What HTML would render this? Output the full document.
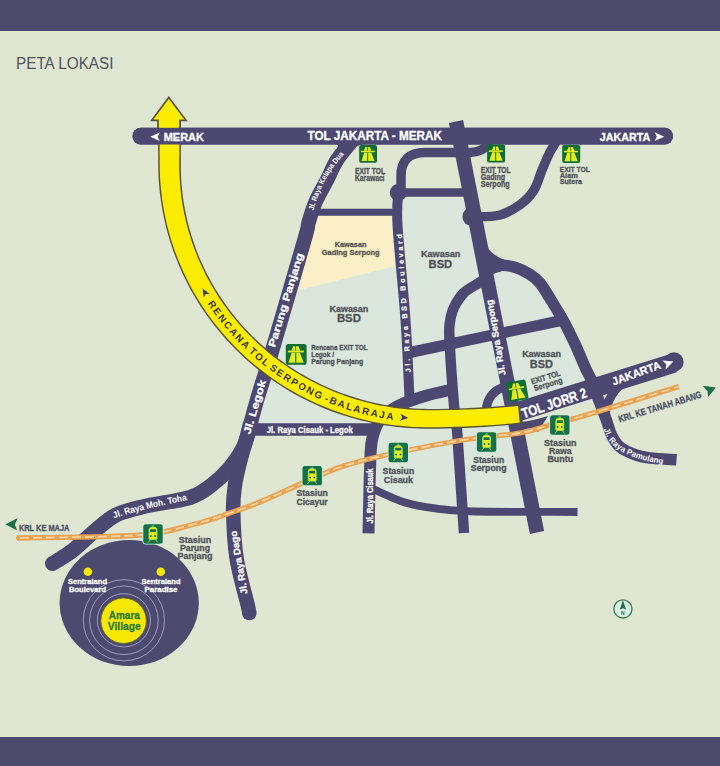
<!DOCTYPE html>
<html><head><meta charset="utf-8"><style>
html,body{margin:0;padding:0;}
body{width:720px;height:766px;overflow:hidden;background:#dfe7d3;font-family:"Liberation Sans",sans-serif;position:relative;}
.bar{position:absolute;left:0;width:720px;background:#4d4a6b;}
svg{position:absolute;left:0;top:0;}
</style></head><body>
<div class="bar" style="top:0;height:31px"></div>
<div class="bar" style="top:737px;height:29px"></div>
<svg width="720" height="766" viewBox="0 0 720 766" font-family="Liberation Sans, sans-serif">
<path d="M300 288 L396 265 L398 192 L466 192 L486 262 L540 280 L575 344 L600 400 L520 418 L535 512 L470 512 L375 490 L372 432 L252 432 Z" fill="#dbe7dc"/>
<path d="M316 215 L395 215 L396 266 L299 290 Z" fill="#faefc6"/>
<path d="M456.0 121.5 L537.0 532.5" stroke="#4c4872" stroke-width="14.5" stroke-linecap="butt"/>
<path d="M398.3 192.5 C398.2 197.9 396.3 203.8 397.5 225.0 C398.7 246.2 403.5 291.2 405.5 320.0 C407.5 348.8 408.8 385.0 409.5 398.0" fill="none" stroke="#4c4872" stroke-width="10" stroke-linecap="butt" stroke-linejoin="round"/>
<path d="M401 193 L401 176 Q401 152.5 425 152.5 L470 152.5 Q482 152.5 490 143" fill="none" stroke="#4c4872" stroke-width="9.5"/>
<path d="M398.0 192.5 L466.0 192.5" stroke="#4c4872" stroke-width="8.3" stroke-linecap="butt"/>
<path d="M472.0 217.0 C476.7 216.7 491.8 217.2 500.0 215.0 C508.2 212.8 515.3 208.2 521.0 204.0 C526.7 199.8 530.5 195.7 534.0 190.0 C537.5 184.3 539.5 176.0 542.0 170.0 C544.5 164.0 546.7 158.7 549.0 154.0 C551.3 149.3 554.8 144.0 556.0 142.0" fill="none" stroke="#4c4872" stroke-width="9.5" stroke-linecap="butt" stroke-linejoin="round"/>
<circle cx="398.3" cy="192.5" r="8.5" fill="#4c4872"/>
<circle cx="471.7" cy="216.7" r="9.3" fill="#4c4872"/>
<path d="M312.0 212.2 L398.0 212.2" stroke="#4c4872" stroke-width="7" stroke-linecap="butt"/>
<path d="M352.0 141.0 C349.5 144.2 341.2 153.5 337.0 160.0 C332.8 166.5 330.6 173.0 327.0 180.0 C323.4 187.0 318.6 194.8 315.5 202.0 C312.4 209.2 310.4 216.7 308.5 223.0 C306.6 229.3 310.4 219.0 304.4 240.0 C298.4 261.0 280.5 322.3 272.6 349.0 C264.7 375.7 261.0 386.3 257.0 400.0 C253.0 413.7 251.4 420.7 248.6 431.0 C245.8 441.3 242.3 453.0 240.0 462.0 C237.7 471.0 236.1 477.0 235.0 485.0 C233.9 493.0 232.9 497.9 233.2 510.0 C233.4 522.1 234.1 541.8 236.5 557.6 C238.9 573.4 245.5 595.5 247.6 604.7 C249.7 613.9 249.0 611.6 249.3 613.0" fill="none" stroke="#4c4872" stroke-width="14.5" stroke-linecap="butt" stroke-linejoin="round"/>
<circle cx="249.3" cy="613" r="7.3" fill="#4c4872"/>
<path d="M52.5 563.5 C55.8 561.4 65.2 556.2 72.0 551.0 C78.8 545.8 85.7 538.5 93.0 532.5 C100.3 526.5 107.5 519.3 116.0 515.0 C124.5 510.7 131.7 509.4 144.0 506.5 C156.3 503.6 178.8 501.0 190.0 497.5 C201.2 494.0 204.3 490.5 211.0 485.5 C217.7 480.5 224.5 474.1 230.0 467.5 C235.5 460.9 240.7 453.1 244.0 446.0 C247.3 438.9 249.0 428.5 250.0 425.0" fill="none" stroke="#4c4872" stroke-width="15" stroke-linecap="round" stroke-linejoin="round"/>
<path d="M250.0 429.5 L376.0 429.5" stroke="#4c4872" stroke-width="12.5" stroke-linecap="butt"/>
<path d="M368.5 533.3 C368.8 522.8 369.4 485.6 370.0 470.0 C370.6 454.4 370.3 448.3 372.0 440.0 C373.7 431.7 375.7 425.7 380.0 420.0 C384.3 414.3 390.5 410.0 398.0 406.0 C405.5 402.0 415.7 398.8 425.0 396.0 C434.3 393.2 449.2 390.2 454.0 389.0" fill="none" stroke="#4c4872" stroke-width="12" stroke-linecap="butt" stroke-linejoin="round"/>
<path d="M371.0 488.0 C376.7 490.4 393.8 499.0 405.0 502.5 C416.2 506.0 426.3 507.2 438.0 508.8 C449.7 510.2 451.8 511.0 475.0 511.5 C498.2 512.0 560.4 511.9 577.5 512.0" fill="none" stroke="#4c4872" stroke-width="7.8" stroke-linecap="butt" stroke-linejoin="round"/>
<path d="M464.0 533.0 C462.8 515.8 458.6 450.9 457.0 430.0 C455.4 409.1 455.4 422.5 454.2 407.5 C452.9 392.5 450.2 354.2 449.5 340.0 C448.8 325.8 449.3 327.3 450.0 322.0 C450.7 316.7 451.4 312.8 453.7 308.0 C456.0 303.2 459.6 297.1 463.6 293.0 C467.7 288.9 473.6 286.3 478.0 283.5 C482.4 280.7 488.0 277.2 490.0 276.0" fill="none" stroke="#4c4872" stroke-width="10.5" stroke-linecap="butt" stroke-linejoin="round"/>
<path d="M405.0 353.5 L566.0 319.5" stroke="#4c4872" stroke-width="11" stroke-linecap="butt"/>
<path d="M487.0 271.0 C489.2 270.1 495.2 266.1 500.0 265.5 C504.8 264.9 510.6 265.9 515.6 267.4 C520.6 268.9 525.9 271.7 530.0 274.3 C534.1 276.9 536.5 278.7 540.0 283.0 C543.5 287.3 547.2 293.8 551.0 300.0 C554.8 306.2 559.0 312.7 563.0 320.0 C567.0 327.3 571.2 335.9 575.0 344.0 C578.8 352.1 583.0 362.7 585.7 368.6 C588.4 374.5 588.9 374.2 591.0 379.3 C593.1 384.4 595.8 392.4 598.3 399.0 C600.8 405.6 603.8 413.0 606.0 419.0 C608.2 425.0 609.2 430.3 611.5 435.0 C613.8 439.7 615.9 443.7 620.0 447.0 C624.1 450.3 631.0 453.2 636.0 455.0 C641.0 456.8 643.2 457.2 650.0 458.0 C656.8 458.8 672.1 459.5 676.5 459.8" fill="none" stroke="#4c4872" stroke-width="11.5" stroke-linecap="butt" stroke-linejoin="round"/>
<path d="M481 230 Q484 256 513 262.5 L500 272 L485 274 Z" fill="#4c4872"/>
<path d="M337 144 L364 144 Q350 147 343 158 Z" fill="#4c4872"/>
<path d="M486 412 Q487 391 507 386" fill="none" stroke="#4c4872" stroke-width="9"/>
<path d="M628 379 Q608 391 604 418" fill="none" stroke="#4c4872" stroke-width="9"/>
<path d="M512 413.5 L674 363" fill="none" stroke="#4c4872" stroke-width="19.5"/>
<path d="M521 422 Q532 421 548 416 L538 432 Q532 426 523 430 Z" fill="#4c4872"/>
<circle cx="674" cy="362" r="9.7" fill="#4c4872"/>
<rect x="132.5" y="127.8" width="540.5" height="16.8" rx="8.4" fill="#4c4872"/>
<path d="M158.0 118.0 L158.0 121.9 L158.0 125.8 L158.1 129.6 L158.1 133.5 L158.1 137.4 L158.1 141.2 L158.1 145.1 L158.1 149.0 L158.2 152.9 L158.2 156.8 L158.2 160.6 L158.2 164.3 L158.3 169.4 L158.4 174.6 L158.7 179.9 L159.1 185.1 L159.6 190.3 L160.2 195.5 L160.9 200.6 L161.7 205.8 L162.6 211.0 L163.6 216.1 L164.7 221.2 L165.9 226.3 L167.2 231.3 L168.6 236.4 L170.1 241.4 L171.7 246.3 L173.4 251.3 L175.3 256.2 L177.2 261.1 L179.2 265.9 L181.3 270.7 L183.5 275.4 L185.7 280.1 L188.1 284.8 L190.6 289.4 L193.2 294.0 L195.8 298.5 L198.6 303.0 L201.4 307.4 L204.3 311.7 L207.3 316.0 L210.4 320.2 L213.6 324.4 L216.9 328.5 L220.2 332.6 L223.6 336.6 L227.1 340.5 L230.7 344.3 L234.3 348.1 L238.1 351.8 L241.9 355.4 L245.7 359.0 L249.7 362.5 L253.7 365.9 L257.8 369.2 L261.9 372.5 L266.1 375.6 L270.4 378.7 L274.7 381.7 L279.1 384.6 L283.6 387.5 L288.1 390.2 L292.6 392.9 L297.2 395.4 L301.9 397.9 L306.6 400.3 L311.3 402.6 L316.1 404.8 L321.0 406.9 L325.8 408.9 L330.7 410.9 L335.7 412.7 L340.7 414.4 L345.7 416.1 L350.8 417.6 L355.9 419.0 L361.0 420.4 L366.1 421.6 L371.3 422.8 L376.4 423.8 L381.6 424.8 L386.9 425.6 L392.1 426.3 L397.3 427.0 L402.6 427.5 L407.9 428.0 L413.1 428.3 L418.4 428.6 L423.7 428.7 L429.0 428.7 L438.2 428.7 L447.5 428.5 L456.7 428.3 L466.0 427.9 L475.2 427.5 L484.5 426.9 L493.7 426.3 L503.0 425.6 L512.2 424.8 L521.4 423.9 L519.6 404.5 L510.5 405.3 L501.4 406.1 L492.4 406.8 L483.3 407.3 L474.3 407.8 L465.2 408.2 L456.2 408.5 L447.1 408.7 L438.1 408.9 L429.0 408.9 L424.1 408.8 L419.2 408.7 L414.3 408.4 L409.4 408.1 L404.5 407.6 L399.7 407.1 L394.8 406.4 L389.9 405.7 L385.1 404.9 L380.3 404.0 L375.5 403.0 L370.7 401.9 L366.0 400.7 L361.3 399.4 L356.6 398.1 L351.9 396.6 L347.3 395.1 L342.7 393.4 L338.1 391.7 L333.6 389.9 L329.1 388.0 L324.6 386.0 L320.2 384.0 L315.8 381.8 L311.5 379.6 L307.2 377.3 L303.0 374.8 L298.8 372.4 L294.6 369.8 L290.6 367.2 L286.5 364.4 L282.5 361.6 L278.6 358.8 L274.8 355.8 L271.0 352.8 L267.2 349.7 L263.6 346.6 L260.0 343.3 L256.4 340.0 L252.9 336.7 L249.5 333.2 L246.2 329.7 L242.9 326.2 L239.7 322.5 L236.6 318.9 L233.6 315.1 L230.6 311.3 L227.7 307.5 L224.9 303.5 L222.1 299.6 L219.5 295.6 L216.9 291.5 L214.4 287.4 L212.0 283.2 L209.7 279.0 L207.4 274.8 L205.3 270.5 L203.2 266.1 L201.2 261.8 L199.3 257.4 L197.5 252.9 L195.8 248.5 L194.2 243.9 L192.7 239.4 L191.2 234.8 L189.9 230.3 L188.6 225.6 L187.4 221.0 L186.4 216.3 L185.4 211.7 L184.5 207.0 L183.7 202.3 L183.0 197.5 L182.4 192.8 L181.9 188.0 L181.5 183.3 L181.2 178.5 L181.0 173.7 L180.8 169.0 L180.8 164.1 L180.8 160.6 L180.8 156.8 L180.8 152.9 L180.9 149.0 L180.9 145.1 L180.9 141.2 L180.9 137.4 L180.9 133.5 L180.9 129.6 L181.0 125.8 L181.0 121.9 L181.0 118.0 Z" fill="#5b5339"/>
<path d="M159.5 118.0 L159.5 121.9 L159.5 125.8 L159.5 129.6 L159.6 133.5 L159.6 137.4 L159.6 141.2 L159.6 145.1 L159.6 149.0 L159.6 152.9 L159.7 156.8 L159.7 160.6 L159.7 164.3 L159.8 169.4 L159.9 174.6 L160.2 179.8 L160.6 185.0 L161.1 190.1 L161.7 195.3 L162.3 200.4 L163.1 205.6 L164.0 210.7 L165.0 215.8 L166.1 220.9 L167.3 225.9 L168.6 231.0 L170.0 236.0 L171.5 240.9 L173.1 245.9 L174.8 250.8 L176.6 255.7 L178.5 260.5 L180.5 265.3 L182.6 270.1 L184.8 274.8 L187.1 279.5 L189.4 284.1 L191.9 288.7 L194.4 293.3 L197.1 297.7 L199.8 302.2 L202.6 306.6 L205.5 310.9 L208.5 315.2 L211.6 319.4 L214.8 323.5 L218.0 327.6 L221.3 331.6 L224.7 335.6 L228.2 339.5 L231.8 343.3 L235.4 347.1 L239.1 350.8 L242.9 354.4 L246.7 357.9 L250.6 361.4 L254.6 364.8 L258.7 368.1 L262.8 371.3 L267.0 374.5 L271.2 377.5 L275.5 380.5 L279.9 383.4 L284.3 386.2 L288.8 389.0 L293.3 391.6 L297.9 394.2 L302.5 396.6 L307.2 399.0 L311.9 401.3 L316.7 403.5 L321.5 405.6 L326.4 407.6 L331.3 409.5 L336.2 411.3 L341.1 413.1 L346.1 414.7 L351.2 416.2 L356.2 417.7 L361.3 419.0 L366.4 420.2 L371.6 421.4 L376.7 422.4 L381.9 423.4 L387.1 424.2 L392.3 424.9 L397.5 425.6 L402.7 426.1 L408.0 426.6 L413.2 426.9 L418.5 427.1 L423.7 427.3 L429.0 427.3 L438.2 427.2 L447.5 427.1 L456.7 426.8 L465.9 426.5 L475.2 426.1 L484.4 425.5 L493.6 424.9 L502.9 424.2 L512.1 423.4 L519.7 422.5 L518.1 405.9 L510.6 406.7 L501.5 407.5 L492.5 408.2 L483.4 408.7 L474.3 409.2 L465.3 409.6 L456.2 409.9 L447.1 410.1 L438.1 410.3 L429.0 410.3 L424.1 410.2 L419.1 410.1 L414.2 409.8 L409.3 409.5 L404.4 409.0 L399.5 408.5 L394.6 407.9 L389.7 407.1 L384.9 406.3 L380.0 405.4 L375.2 404.4 L370.4 403.3 L365.6 402.1 L360.9 400.8 L356.2 399.4 L351.5 398.0 L346.8 396.4 L342.2 394.8 L337.6 393.1 L333.0 391.2 L328.5 389.3 L324.0 387.3 L319.6 385.3 L315.2 383.1 L310.8 380.8 L306.5 378.5 L302.2 376.1 L298.0 373.6 L293.9 371.0 L289.8 368.4 L285.7 365.6 L281.7 362.8 L277.8 359.9 L273.9 357.0 L270.1 353.9 L266.3 350.8 L262.6 347.6 L259.0 344.4 L255.4 341.1 L251.9 337.7 L248.5 334.2 L245.1 330.7 L241.8 327.1 L238.6 323.5 L235.5 319.8 L232.4 316.0 L229.4 312.2 L226.5 308.3 L223.7 304.4 L220.9 300.4 L218.3 296.4 L215.7 292.3 L213.2 288.1 L210.7 284.0 L208.4 279.7 L206.1 275.4 L204.0 271.1 L201.9 266.8 L199.9 262.4 L198.0 257.9 L196.2 253.5 L194.4 249.0 L192.8 244.4 L191.3 239.9 L189.8 235.3 L188.4 230.7 L187.2 226.0 L186.0 221.4 L184.9 216.7 L183.9 212.0 L183.0 207.2 L182.2 202.5 L181.5 197.7 L180.9 193.0 L180.4 188.2 L180.0 183.4 L179.7 178.6 L179.5 173.8 L179.3 169.0 L179.3 164.1 L179.3 160.6 L179.3 156.8 L179.4 152.9 L179.4 149.0 L179.4 145.1 L179.4 141.2 L179.4 137.4 L179.4 133.5 L179.5 129.6 L179.5 125.8 L179.5 121.9 L179.5 118.0 Z" fill="#fcec00"/>
<path d="M168.8 97.5 L186 120.3 L180 120.3 L180 132 L158 132 L158 120.3 L151.8 120.3 Z" fill="#fcec00" stroke="#5b5339" stroke-width="1.7" stroke-linejoin="miter"/>
<rect x="132.5" y="127.8" width="540.5" height="16.8" rx="8.4" fill="#4c4872"/>
<path d="M17.0 538.0 C37.3 537.5 109.7 537.5 139.0 535.2 C168.3 533.0 178.3 528.0 193.0 524.5 C207.7 521.0 215.8 517.8 227.0 514.0 C238.2 510.2 246.8 507.4 260.0 502.0 C273.2 496.6 292.3 487.4 306.0 481.5 C319.7 475.6 328.7 470.9 342.0 466.5 C355.3 462.1 366.3 459.3 386.0 455.0 C405.7 450.7 437.7 444.2 460.0 440.5 C482.3 436.8 505.0 435.6 520.0 433.0 C535.0 430.4 538.3 428.2 550.0 425.0 C561.7 421.8 568.5 420.4 590.0 414.0 C611.5 407.6 664.2 391.1 679.0 386.5" fill="none" stroke="#eaa152" stroke-width="5.3"/>
<path d="M17.0 538.0 C37.3 537.5 109.7 537.5 139.0 535.2 C168.3 533.0 178.3 528.0 193.0 524.5 C207.7 521.0 215.8 517.8 227.0 514.0 C238.2 510.2 246.8 507.4 260.0 502.0 C273.2 496.6 292.3 487.4 306.0 481.5 C319.7 475.6 328.7 470.9 342.0 466.5 C355.3 462.1 366.3 459.3 386.0 455.0 C405.7 450.7 437.7 444.2 460.0 440.5 C482.3 436.8 505.0 435.6 520.0 433.0 C535.0 430.4 538.3 428.2 550.0 425.0 C561.7 421.8 568.5 420.4 590.0 414.0 C611.5 407.6 664.2 391.1 679.0 386.5" fill="none" stroke="#f8d3a0" stroke-width="1.8"/>
<path d="M17.0 538.0 C37.3 537.5 109.7 537.5 139.0 535.2 C168.3 533.0 178.3 528.0 193.0 524.5 C207.7 521.0 215.8 517.8 227.0 514.0 C238.2 510.2 246.8 507.4 260.0 502.0 C273.2 496.6 292.3 487.4 306.0 481.5 C319.7 475.6 328.7 470.9 342.0 466.5 C355.3 462.1 366.3 459.3 386.0 455.0 C405.7 450.7 437.7 444.2 460.0 440.5 C482.3 436.8 505.0 435.6 520.0 433.0 C535.0 430.4 538.3 428.2 550.0 425.0 C561.7 421.8 568.5 420.4 590.0 414.0 C611.5 407.6 664.2 391.1 679.0 386.5" fill="none" stroke="#e9a04e" stroke-width="2.4" stroke-dasharray="2 11" stroke-linecap="round"/>
<ellipse cx="129.2" cy="603" rx="69.6" ry="63" fill="#4d4a6f"/>
<circle cx="123.9" cy="620.3" r="40.6" fill="none" stroke="#a7a3c9" stroke-width="0.9"/>
<circle cx="123.9" cy="620.3" r="34.3" fill="none" stroke="#a7a3c9" stroke-width="0.9"/>
<circle cx="123.9" cy="620.3" r="26.6" fill="none" stroke="#a7a3c9" stroke-width="0.9"/>
<circle cx="123.6" cy="620.7" r="22.8" fill="#f6e800" stroke="#6b6430" stroke-width="1"/>
<circle cx="87.9" cy="571.8" r="4.3" fill="#f6e800"/>
<circle cx="160.8" cy="571.8" r="4.3" fill="#f6e800"/>
<text x="16.0" y="69.0" font-size="17.20" font-weight="normal" fill="#50545c" text-anchor="start" textLength="97.5" lengthAdjust="spacingAndGlyphs" >PETA LOKASI</text>
<path d="M150.3 136.7 L159.8 132.5 L157.6 136.7 L159.8 140.9 Z" fill="#fff"/>
<text x="163.7" y="140.9" font-size="11.20" font-weight="bold" fill="#ffffff" text-anchor="start" textLength="40.3" lengthAdjust="spacingAndGlyphs"  stroke="#ffffff" stroke-width="0.32">MERAK</text>
<text x="307.5" y="140.2" font-size="12.00" font-weight="bold" fill="#ffffff" text-anchor="start" textLength="134.5" lengthAdjust="spacingAndGlyphs"  stroke="#ffffff" stroke-width="0.32">TOL JAKARTA - MERAK</text>
<text x="599.8" y="141.0" font-size="11.60" font-weight="bold" fill="#ffffff" text-anchor="start" textLength="50.6" lengthAdjust="spacingAndGlyphs"  stroke="#ffffff" stroke-width="0.32">JAKARTA</text>
<path d="M664.2 136.7 L654.6 132.3 L656.9 136.7 L654.6 141.1 Z" fill="#fff"/>
<g transform="translate(359.2 145.0) scale(0.989)"><rect x="0" y="0" width="18" height="18" rx="2.2" fill="#0f6e33"/><path d="M6.4 2.0 L8.2 2.0 L8.1 5.9 L4.7 5.9 Z" fill="#e6ef1e"/><path d="M8.9 2.0 L10.8 2.0 L12.5 5.9 L8.9 5.9 Z" fill="#e6ef1e"/><rect x="1.8" y="5.8" width="13.9" height="1.5" fill="#e6ef1e"/><path d="M5.0 7.6 L8.1 7.6 L8.1 16.2 L2.3 16.2 Z" fill="#e6ef1e"/><path d="M9.1 7.6 L12.2 7.6 L15.5 16.2 L9.1 16.2 Z" fill="#e6ef1e"/></g>
<text x="355.0" y="173.8" font-size="8.20" font-weight="bold" fill="#4f5259" text-anchor="start" textLength="30.0" lengthAdjust="spacingAndGlyphs"  stroke="#4f5259" stroke-width="0.32">EXIT TOL</text>
<text x="355.0" y="181.0" font-size="8.20" font-weight="bold" fill="#4f5259" text-anchor="start" textLength="29.5" lengthAdjust="spacingAndGlyphs"  stroke="#4f5259" stroke-width="0.32">Karawaci</text>
<g transform="translate(487.1 144.6) scale(1.000)"><rect x="0" y="0" width="18" height="18" rx="2.2" fill="#0f6e33"/><path d="M6.4 2.0 L8.2 2.0 L8.1 5.9 L4.7 5.9 Z" fill="#e6ef1e"/><path d="M8.9 2.0 L10.8 2.0 L12.5 5.9 L8.9 5.9 Z" fill="#e6ef1e"/><rect x="1.8" y="5.8" width="13.9" height="1.5" fill="#e6ef1e"/><path d="M5.0 7.6 L8.1 7.6 L8.1 16.2 L2.3 16.2 Z" fill="#e6ef1e"/><path d="M9.1 7.6 L12.2 7.6 L15.5 16.2 L9.1 16.2 Z" fill="#e6ef1e"/></g>
<text x="480.8" y="173.4" font-size="8.20" font-weight="bold" fill="#4f5259" text-anchor="start" textLength="29.8" lengthAdjust="spacingAndGlyphs"  stroke="#4f5259" stroke-width="0.32">EXIT TOL</text>
<text x="480.8" y="180.4" font-size="8.20" font-weight="bold" fill="#4f5259" text-anchor="start" textLength="24.4" lengthAdjust="spacingAndGlyphs"  stroke="#4f5259" stroke-width="0.32">Gading</text>
<text x="480.8" y="186.8" font-size="8.20" font-weight="bold" fill="#4f5259" text-anchor="start" textLength="28.9" lengthAdjust="spacingAndGlyphs"  stroke="#4f5259" stroke-width="0.32">Serpong</text>
<g transform="translate(562.2 145.0) scale(1.000)"><rect x="0" y="0" width="18" height="18" rx="2.2" fill="#0f6e33"/><path d="M6.4 2.0 L8.2 2.0 L8.1 5.9 L4.7 5.9 Z" fill="#e6ef1e"/><path d="M8.9 2.0 L10.8 2.0 L12.5 5.9 L8.9 5.9 Z" fill="#e6ef1e"/><rect x="1.8" y="5.8" width="13.9" height="1.5" fill="#e6ef1e"/><path d="M5.0 7.6 L8.1 7.6 L8.1 16.2 L2.3 16.2 Z" fill="#e6ef1e"/><path d="M9.1 7.6 L12.2 7.6 L15.5 16.2 L9.1 16.2 Z" fill="#e6ef1e"/></g>
<text x="559.7" y="171.6" font-size="8.00" font-weight="bold" fill="#4f5259" text-anchor="start" textLength="30.3" lengthAdjust="spacingAndGlyphs"  stroke="#4f5259" stroke-width="0.32">EXIT TOL</text>
<text x="559.7" y="177.9" font-size="8.00" font-weight="bold" fill="#4f5259" text-anchor="start" textLength="18.3" lengthAdjust="spacingAndGlyphs"  stroke="#4f5259" stroke-width="0.32">Alam</text>
<text x="559.7" y="184.2" font-size="8.00" font-weight="bold" fill="#4f5259" text-anchor="start" textLength="22.3" lengthAdjust="spacingAndGlyphs"  stroke="#4f5259" stroke-width="0.32">Sutera</text>
<g transform="translate(285.8 344.0) scale(1.156)"><rect x="0" y="0" width="18" height="18" rx="2.2" fill="#0f6e33"/><path d="M6.4 2.0 L8.2 2.0 L8.1 5.9 L4.7 5.9 Z" fill="#e6ef1e"/><path d="M8.9 2.0 L10.8 2.0 L12.5 5.9 L8.9 5.9 Z" fill="#e6ef1e"/><rect x="1.8" y="5.8" width="13.9" height="1.5" fill="#e6ef1e"/><path d="M5.0 7.6 L8.1 7.6 L8.1 16.2 L2.3 16.2 Z" fill="#e6ef1e"/><path d="M9.1 7.6 L12.2 7.6 L15.5 16.2 L9.1 16.2 Z" fill="#e6ef1e"/></g>
<text x="311.2" y="350.3" font-size="7.40" font-weight="bold" fill="#4f5259" text-anchor="start" textLength="56.3" lengthAdjust="spacingAndGlyphs"  stroke="#4f5259" stroke-width="0.32">Rencana EXIT TOL</text>
<text x="311.2" y="356.9" font-size="7.40" font-weight="bold" fill="#4f5259" text-anchor="start" textLength="22.8" lengthAdjust="spacingAndGlyphs"  stroke="#4f5259" stroke-width="0.32">Legok /</text>
<text x="311.2" y="363.6" font-size="7.40" font-weight="bold" fill="#4f5259" text-anchor="start" textLength="52.0" lengthAdjust="spacingAndGlyphs"  stroke="#4f5259" stroke-width="0.32">Parung Panjang</text>
<g transform="translate(507.0 381.0) rotate(-10.0 9 9) scale(1.111)"><rect x="0" y="0" width="18" height="18" rx="2.2" fill="#0f6e33"/><path d="M6.4 2.0 L8.2 2.0 L8.1 5.9 L4.7 5.9 Z" fill="#e6ef1e"/><path d="M8.9 2.0 L10.8 2.0 L12.5 5.9 L8.9 5.9 Z" fill="#e6ef1e"/><rect x="1.8" y="5.8" width="13.9" height="1.5" fill="#e6ef1e"/><path d="M5.0 7.6 L8.1 7.6 L8.1 16.2 L2.3 16.2 Z" fill="#e6ef1e"/><path d="M9.1 7.6 L12.2 7.6 L15.5 16.2 L9.1 16.2 Z" fill="#e6ef1e"/></g>
<text stroke="#4f5259" stroke-width="0.3" transform="translate(532.0 384.4) rotate(-17.0)" font-size="8.20" font-weight="bold" fill="#4f5259" text-anchor="start" textLength="30.3" lengthAdjust="spacingAndGlyphs">EXIT TOL</text>
<text stroke="#4f5259" stroke-width="0.3" transform="translate(534.7 391.2) rotate(-17.0)" font-size="8.20" font-weight="bold" fill="#4f5259" text-anchor="start" textLength="29.6" lengthAdjust="spacingAndGlyphs">Serpong</text>
<text x="350.6" y="246.5" font-size="8.00" font-weight="bold" fill="#585750" text-anchor="middle" textLength="31.7" lengthAdjust="spacingAndGlyphs"  stroke="#585750" stroke-width="0.32">Kawasan</text>
<text x="350.7" y="255.3" font-size="8.00" font-weight="bold" fill="#585750" text-anchor="middle" textLength="57.9" lengthAdjust="spacingAndGlyphs"  stroke="#585750" stroke-width="0.32">Gading Serpong</text>
<text x="348.9" y="312.0" font-size="9.30" font-weight="bold" fill="#4f5259" text-anchor="middle" textLength="38.6" lengthAdjust="spacingAndGlyphs"  stroke="#4f5259" stroke-width="0.32">Kawasan</text>
<text x="348.9" y="322.4" font-size="11.20" font-weight="bold" fill="#4f5259" text-anchor="middle" textLength="24.0" lengthAdjust="spacingAndGlyphs"  stroke="#4f5259" stroke-width="0.32">BSD</text>
<text x="440.7" y="256.7" font-size="9.30" font-weight="bold" fill="#4f5259" text-anchor="middle" textLength="39.5" lengthAdjust="spacingAndGlyphs"  stroke="#4f5259" stroke-width="0.32">Kawasan</text>
<text x="440.4" y="267.8" font-size="11.20" font-weight="bold" fill="#4f5259" text-anchor="middle" textLength="23.6" lengthAdjust="spacingAndGlyphs"  stroke="#4f5259" stroke-width="0.32">BSD</text>
<text x="541.6" y="357.4" font-size="9.30" font-weight="bold" fill="#4f5259" text-anchor="middle" textLength="38.9" lengthAdjust="spacingAndGlyphs"  stroke="#4f5259" stroke-width="0.32">Kawasan</text>
<text x="541.3" y="367.8" font-size="11.20" font-weight="bold" fill="#4f5259" text-anchor="middle" textLength="23.0" lengthAdjust="spacingAndGlyphs"  stroke="#4f5259" stroke-width="0.32">BSD</text>
<g transform="translate(143.0 524.0) scale(1.000)"><rect x="-0.5" y="-0.5" width="21" height="21" rx="3" fill="#c9efd6"/><rect x="0.3" y="0.3" width="19.4" height="19.4" rx="2.6" fill="#15704a"/><path d="M6 5.5 Q6 3 10 3 Q14 3 14 5.5 L14 14.5 Q14 15.5 13 15.5 L7 15.5 Q6 15.5 6 14.5 Z" fill="#e6ec1e" stroke="#9ee05a" stroke-width="0.8"/><rect x="7" y="5.2" width="6" height="2.8" rx="0.6" fill="#15704a"/><circle cx="7.9" cy="12" r="0.9" fill="#15704a"/><circle cx="12.1" cy="12" r="0.9" fill="#15704a"/><path d="M7.5 15.5 L5.3 18.4 M12.5 15.5 L14.7 18.4" stroke="#9ee05a" stroke-width="0.9"/><path d="M9 2.9 L9.5 1.6 L10.5 1.6 L11 2.9" stroke="#9ee05a" stroke-width="0.6" fill="none"/></g>
<text x="195.0" y="542.5" font-size="9.20" font-weight="bold" fill="#4f5259" text-anchor="middle" textLength="32.5" lengthAdjust="spacingAndGlyphs"  stroke="#4f5259" stroke-width="0.32">Stasiun</text>
<text x="195.0" y="551.2" font-size="9.20" font-weight="bold" fill="#4f5259" text-anchor="middle" textLength="30.0" lengthAdjust="spacingAndGlyphs"  stroke="#4f5259" stroke-width="0.32">Parung</text>
<text x="195.0" y="559.2" font-size="9.20" font-weight="bold" fill="#4f5259" text-anchor="middle" textLength="35.0" lengthAdjust="spacingAndGlyphs"  stroke="#4f5259" stroke-width="0.32">Panjang</text>
<g transform="translate(302.2 465.6) scale(1.000)"><rect x="-0.5" y="-0.5" width="21" height="21" rx="3" fill="#c9efd6"/><rect x="0.3" y="0.3" width="19.4" height="19.4" rx="2.6" fill="#15704a"/><path d="M6 5.5 Q6 3 10 3 Q14 3 14 5.5 L14 14.5 Q14 15.5 13 15.5 L7 15.5 Q6 15.5 6 14.5 Z" fill="#e6ec1e" stroke="#9ee05a" stroke-width="0.8"/><rect x="7" y="5.2" width="6" height="2.8" rx="0.6" fill="#15704a"/><circle cx="7.9" cy="12" r="0.9" fill="#15704a"/><circle cx="12.1" cy="12" r="0.9" fill="#15704a"/><path d="M7.5 15.5 L5.3 18.4 M12.5 15.5 L14.7 18.4" stroke="#9ee05a" stroke-width="0.9"/><path d="M9 2.9 L9.5 1.6 L10.5 1.6 L11 2.9" stroke="#9ee05a" stroke-width="0.6" fill="none"/></g>
<text x="312.1" y="496.0" font-size="9.20" font-weight="bold" fill="#4f5259" text-anchor="middle" textLength="31.4" lengthAdjust="spacingAndGlyphs"  stroke="#4f5259" stroke-width="0.32">Stasiun</text>
<text x="312.1" y="504.5" font-size="9.20" font-weight="bold" fill="#4f5259" text-anchor="middle" textLength="31.0" lengthAdjust="spacingAndGlyphs"  stroke="#4f5259" stroke-width="0.32">Cicayur</text>
<g transform="translate(388.3 442.5) scale(1.000)"><rect x="-0.5" y="-0.5" width="21" height="21" rx="3" fill="#c9efd6"/><rect x="0.3" y="0.3" width="19.4" height="19.4" rx="2.6" fill="#15704a"/><path d="M6 5.5 Q6 3 10 3 Q14 3 14 5.5 L14 14.5 Q14 15.5 13 15.5 L7 15.5 Q6 15.5 6 14.5 Z" fill="#e6ec1e" stroke="#9ee05a" stroke-width="0.8"/><rect x="7" y="5.2" width="6" height="2.8" rx="0.6" fill="#15704a"/><circle cx="7.9" cy="12" r="0.9" fill="#15704a"/><circle cx="12.1" cy="12" r="0.9" fill="#15704a"/><path d="M7.5 15.5 L5.3 18.4 M12.5 15.5 L14.7 18.4" stroke="#9ee05a" stroke-width="0.9"/><path d="M9 2.9 L9.5 1.6 L10.5 1.6 L11 2.9" stroke="#9ee05a" stroke-width="0.6" fill="none"/></g>
<text x="398.4" y="474.2" font-size="9.20" font-weight="bold" fill="#4f5259" text-anchor="middle" textLength="31.7" lengthAdjust="spacingAndGlyphs"  stroke="#4f5259" stroke-width="0.32">Stasiun</text>
<text x="398.4" y="482.5" font-size="9.20" font-weight="bold" fill="#4f5259" text-anchor="middle" textLength="29.2" lengthAdjust="spacingAndGlyphs"  stroke="#4f5259" stroke-width="0.32">Cisauk</text>
<g transform="translate(476.6 432.0) scale(1.000)"><rect x="-0.5" y="-0.5" width="21" height="21" rx="3" fill="#c9efd6"/><rect x="0.3" y="0.3" width="19.4" height="19.4" rx="2.6" fill="#15704a"/><path d="M6 5.5 Q6 3 10 3 Q14 3 14 5.5 L14 14.5 Q14 15.5 13 15.5 L7 15.5 Q6 15.5 6 14.5 Z" fill="#e6ec1e" stroke="#9ee05a" stroke-width="0.8"/><rect x="7" y="5.2" width="6" height="2.8" rx="0.6" fill="#15704a"/><circle cx="7.9" cy="12" r="0.9" fill="#15704a"/><circle cx="12.1" cy="12" r="0.9" fill="#15704a"/><path d="M7.5 15.5 L5.3 18.4 M12.5 15.5 L14.7 18.4" stroke="#9ee05a" stroke-width="0.9"/><path d="M9 2.9 L9.5 1.6 L10.5 1.6 L11 2.9" stroke="#9ee05a" stroke-width="0.6" fill="none"/></g>
<text x="488.7" y="462.5" font-size="9.20" font-weight="bold" fill="#4f5259" text-anchor="middle" textLength="30.9" lengthAdjust="spacingAndGlyphs"  stroke="#4f5259" stroke-width="0.32">Stasiun</text>
<text x="488.7" y="470.5" font-size="9.20" font-weight="bold" fill="#4f5259" text-anchor="middle" textLength="35.9" lengthAdjust="spacingAndGlyphs"  stroke="#4f5259" stroke-width="0.32">Serpong</text>
<g transform="translate(549.8 415.0) scale(1.000)"><rect x="-0.5" y="-0.5" width="21" height="21" rx="3" fill="#c9efd6"/><rect x="0.3" y="0.3" width="19.4" height="19.4" rx="2.6" fill="#15704a"/><path d="M6 5.5 Q6 3 10 3 Q14 3 14 5.5 L14 14.5 Q14 15.5 13 15.5 L7 15.5 Q6 15.5 6 14.5 Z" fill="#e6ec1e" stroke="#9ee05a" stroke-width="0.8"/><rect x="7" y="5.2" width="6" height="2.8" rx="0.6" fill="#15704a"/><circle cx="7.9" cy="12" r="0.9" fill="#15704a"/><circle cx="12.1" cy="12" r="0.9" fill="#15704a"/><path d="M7.5 15.5 L5.3 18.4 M12.5 15.5 L14.7 18.4" stroke="#9ee05a" stroke-width="0.9"/><path d="M9 2.9 L9.5 1.6 L10.5 1.6 L11 2.9" stroke="#9ee05a" stroke-width="0.6" fill="none"/></g>
<text x="560.3" y="446.0" font-size="9.20" font-weight="bold" fill="#4f5259" text-anchor="middle" textLength="32.6" lengthAdjust="spacingAndGlyphs"  stroke="#4f5259" stroke-width="0.32">Stasiun</text>
<text x="560.3" y="453.5" font-size="9.20" font-weight="bold" fill="#4f5259" text-anchor="middle" textLength="22.7" lengthAdjust="spacingAndGlyphs"  stroke="#4f5259" stroke-width="0.32">Rawa</text>
<text x="560.3" y="461.7" font-size="9.20" font-weight="bold" fill="#4f5259" text-anchor="middle" textLength="25.8" lengthAdjust="spacingAndGlyphs"  stroke="#4f5259" stroke-width="0.32">Buntu</text>
<text x="18.9" y="531.0" font-size="9.00" font-weight="bold" fill="#4a5264" text-anchor="start" textLength="50.5" lengthAdjust="spacingAndGlyphs"  stroke="#4a5264" stroke-width="0.32">KRL KE MAJA</text>
<path d="M5.5 524.3 L17.8 518 L14.8 524.6 L17.2 530.6 Z" fill="#1b6e45"/>
<text stroke="#4a5264" stroke-width="0.3" transform="translate(619.5 422.5) rotate(-16.9)" font-size="9.60" font-weight="bold" fill="#4a5264" text-anchor="start" textLength="86.5" lengthAdjust="spacingAndGlyphs">KRL KE TANAH ABANG</text>
<path d="M702.6 385.8 L715.8 387.6 L708.2 397 L707.5 391 Z" fill="#1b6e45"/>
<text x="266.7" y="433.0" font-size="9.30" font-weight="bold" fill="#ffffff" text-anchor="start" textLength="86.1" lengthAdjust="spacingAndGlyphs"  stroke="#ffffff" stroke-width="0.32">Jl. Raya Cisauk - Legok</text>
<text stroke="#ffffff" stroke-width="0.3" transform="translate(289.0 301.0) rotate(-73.0)" font-size="10.00" font-weight="bold" fill="#ffffff" text-anchor="middle" textLength="98.0" lengthAdjust="spacingAndGlyphs">Parung Panjang</text>
<text stroke="#ffffff" stroke-width="0.3" transform="translate(258.0 408.0) rotate(-73.5)" font-size="10.20" font-weight="bold" fill="#ffffff" text-anchor="middle" textLength="55.8" lengthAdjust="spacingAndGlyphs">Jl. Legok</text>
<text transform="translate(406.3 303) rotate(-93.7)" font-size="7.2" font-weight="bold" fill="#fff" stroke="#fff" stroke-width="0.2" text-anchor="middle" textLength="138.6" lengthAdjust="spacing">Jl. Raya BSD Boulevard</text>
<text stroke="#ffffff" stroke-width="0.3" transform="translate(499.0 337.0) rotate(-100.0)" font-size="9.30" font-weight="bold" fill="#ffffff" text-anchor="middle" textLength="76.6" lengthAdjust="spacingAndGlyphs">Jl. Raya Serpong</text>
<text stroke="#ffffff" stroke-width="0.3" transform="translate(372.5 496.0) rotate(-90.0)" font-size="8.40" font-weight="bold" fill="#ffffff" text-anchor="middle" textLength="55.0" lengthAdjust="spacingAndGlyphs">Jl. Raya Cisauk</text>
<text stroke="#ffffff" stroke-width="0.3" transform="translate(242.0 562.0) rotate(-100.0)" font-size="9.50" font-weight="bold" fill="#ffffff" text-anchor="middle" textLength="64.0" lengthAdjust="spacingAndGlyphs">Jl. Raya Dago</text>
<text stroke="#ffffff" stroke-width="0.3" transform="translate(523.5 418.5) rotate(-18.5)" font-size="14.20" font-weight="bold" fill="#ffffff" text-anchor="start" textLength="68.0" lengthAdjust="spacingAndGlyphs">TOL JORR 2</text>
<text stroke="#ffffff" stroke-width="0.3" transform="translate(613.5 385.5) rotate(-19.6)" font-size="11.20" font-weight="bold" fill="#ffffff" text-anchor="start" textLength="51.0" lengthAdjust="spacingAndGlyphs">JAKARTA</text>
<path d="M673.4 361.5 L662.4 360.4 L666.3 364.3 L665.6 369.6 Z" fill="#fff"/>
<text x="87.5" y="584.4" font-size="8.00" font-weight="bold" fill="#ffffff" text-anchor="middle" textLength="39.0" lengthAdjust="spacingAndGlyphs"  stroke="#ffffff" stroke-width="0.32">Sentraland</text>
<text x="87.5" y="591.5" font-size="8.00" font-weight="bold" fill="#ffffff" text-anchor="middle" textLength="37.0" lengthAdjust="spacingAndGlyphs"  stroke="#ffffff" stroke-width="0.32">Boulevard</text>
<text x="161.0" y="584.4" font-size="8.00" font-weight="bold" fill="#ffffff" text-anchor="middle" textLength="39.0" lengthAdjust="spacingAndGlyphs"  stroke="#ffffff" stroke-width="0.32">Sentraland</text>
<text x="161.0" y="591.5" font-size="8.00" font-weight="bold" fill="#ffffff" text-anchor="middle" textLength="33.0" lengthAdjust="spacingAndGlyphs"  stroke="#ffffff" stroke-width="0.32">Paradise</text>
<text x="124.3" y="619.0" font-size="11.20" font-weight="bold" fill="#2a7d2e" text-anchor="middle" textLength="31.0" lengthAdjust="spacingAndGlyphs"  stroke="#2a7d2e" stroke-width="0.32">Amara</text>
<text x="124.3" y="630.0" font-size="11.20" font-weight="bold" fill="#2a7d2e" text-anchor="middle" textLength="33.0" lengthAdjust="spacingAndGlyphs"  stroke="#2a7d2e" stroke-width="0.32">Village</text>
<circle cx="622.9" cy="608.9" r="9.1" fill="#d8efe0" stroke="#3d7a55" stroke-width="1.3"/>
<path d="M622.9 600.3 L626 609.6 L622.9 608.3 L619.8 609.6 Z" fill="#18704a"/>
<text x="622.9" y="614.6" font-size="5" font-weight="bold" fill="#18704a" text-anchor="middle">N</text>
<defs><path id="pKD" d="M311 210 C317 188 327 166 350 145"/><path id="pMT" d="M113 515.5 C140 506 165 502 191 496"/><path id="pPM" d="M606.5 428 C611 446 628 456 668 462"/><path id="pY" d="M169.5 118.0 L169.5 121.9 L169.5 125.8 L169.5 129.6 L169.5 133.5 L169.5 137.4 L169.5 141.2 L169.5 145.1 L169.5 149.0 L169.5 152.9 L169.5 156.8 L169.5 160.6 L169.5 164.2 L169.6 169.2 L169.7 174.2 L170.0 179.2 L170.3 184.2 L170.7 189.2 L171.3 194.1 L171.9 199.1 L172.7 204.0 L173.5 209.0 L174.5 213.9 L175.5 218.8 L176.7 223.6 L177.9 228.5 L179.2 233.3 L180.7 238.1 L182.2 242.9 L183.8 247.6 L185.5 252.3 L187.3 257.0 L189.3 261.6 L191.2 266.2 L193.3 270.8 L195.5 275.3 L197.8 279.8 L200.1 284.2 L202.6 288.6 L205.1 292.9 L207.7 297.2 L210.4 301.5 L213.2 305.6 L216.1 309.8 L219.1 313.9 L222.1 317.9 L225.2 321.8 L228.4 325.7 L231.7 329.5 L235.0 333.3 L238.4 337.0 L241.9 340.7 L245.5 344.2 L249.1 347.7 L252.9 351.2 L256.6 354.5 L260.5 357.8 L264.4 361.0 L268.3 364.1 L272.4 367.2 L276.5 370.2 L280.6 373.1 L284.8 375.9 L289.1 378.6 L293.4 381.3 L297.8 383.9 L302.2 386.3 L306.7 388.7 L311.2 391.1 L315.8 393.3 L320.4 395.4 L325.0 397.5 L329.7 399.4 L334.4 401.3 L339.2 403.1 L344.0 404.7 L348.8 406.3 L353.7 407.8 L358.6 409.2 L363.5 410.6 L368.4 411.8 L373.4 412.9 L378.4 413.9 L383.4 414.8 L388.4 415.7 L393.4 416.4 L398.5 417.0 L403.6 417.6 L408.6 418.0 L413.7 418.4 L418.8 418.6 L423.9 418.8 L429.0 418.8 L438.1 418.8 L447.3 418.6 L456.4 418.4 L465.6 418.1 L474.8 417.6 L483.9 417.1 L493.1 416.5 L502.2 415.9 L511.4 415.1 L520.5 414.2"/></defs>
<text font-size="7.6" font-weight="bold" fill="#fff" dy="2.6"><textPath href="#pKD" textLength="66" lengthAdjust="spacingAndGlyphs">Jl. Raya Kelapa Dua</textPath></text>
<text font-size="9.3" font-weight="bold" fill="#fff" dy="3.2"><textPath href="#pMT" textLength="76" lengthAdjust="spacingAndGlyphs">Jl. Raya Moh. Toha</textPath></text>
<text font-size="8.3" font-weight="bold" fill="#fff" dy="2.9"><textPath href="#pPM" textLength="70" lengthAdjust="spacingAndGlyphs">Jl. Raya Pamulang</textPath></text>
<text font-size="9.8" font-weight="bold" fill="#3b3728" dy="3.5" word-spacing="-2.5"><textPath href="#pY" startOffset="191.5" textLength="222.9" lengthAdjust="spacing">RENCANA TOL SERPONG -BALARAJA</textPath></text>
<path d="M202.7 288.8 L209.9 294.0 L205.7 294.0 L203.8 297.7 Z" fill="#3d3a55"/><path d="M408.3 418.0 L399.9 420.8 L402.4 417.5 L400.6 413.7 Z" fill="#3d3a55"/>
</svg>
</body></html>
